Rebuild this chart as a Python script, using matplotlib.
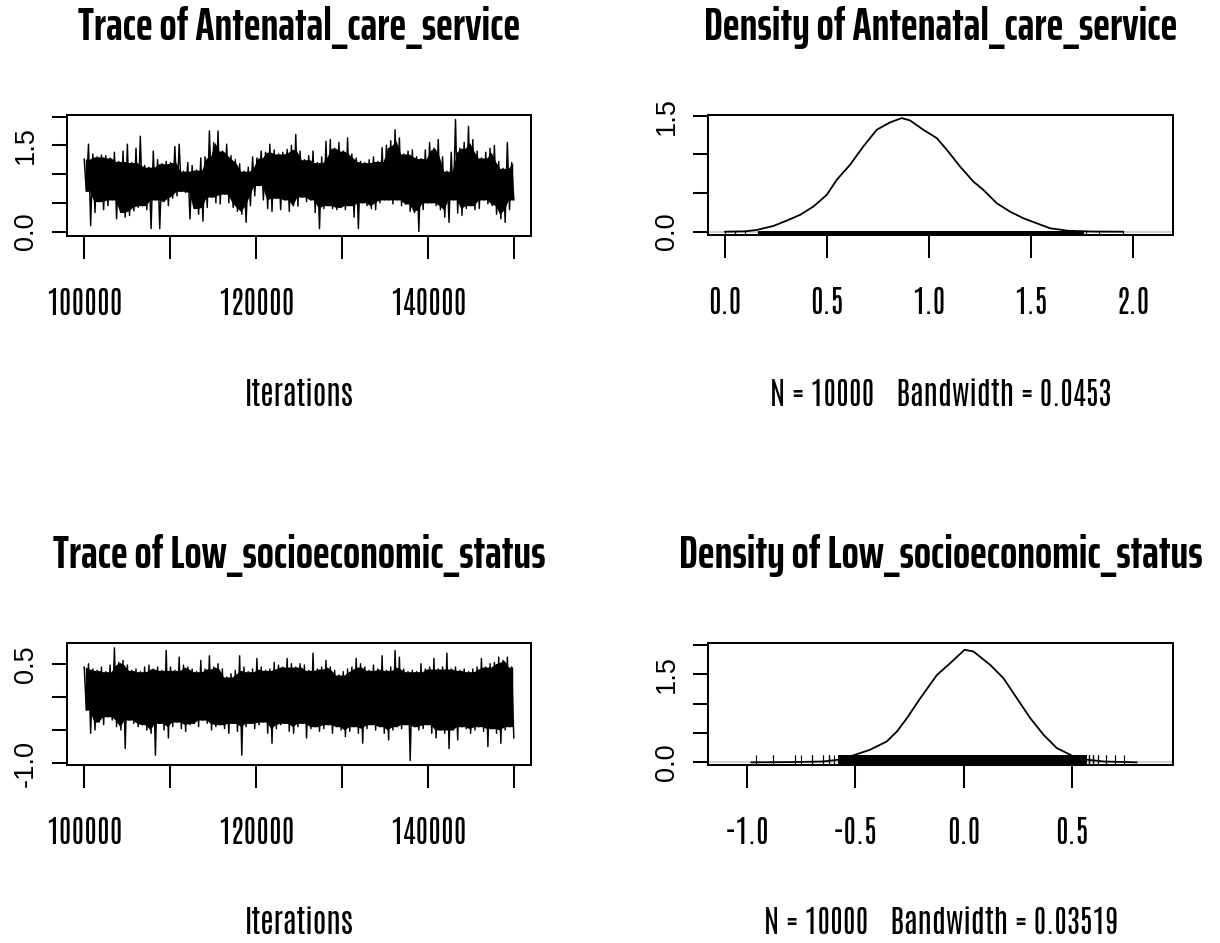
import numpy as np
import matplotlib
matplotlib.use("Agg")
import matplotlib.pyplot as plt
from matplotlib.textpath import TextPath
from matplotlib.font_manager import FontProperties

# ---------------- data ----------------
iter_start, iter_end = 100000, 150000

# trace 1: per-bin (500 iterations) upper and lower excursions
ant_hi = [1.26, 1.52, 1.35, 1.30, 1.33, 1.32, 1.28, 1.38, 1.22, 1.40,
          1.52, 1.20, 1.45, 1.66, 1.15, 1.12, 1.40, 1.25, 1.18, 1.22,
          1.20, 1.48, 1.52, 1.05, 1.20, 1.15, 1.07, 1.28, 1.30, 1.75,
          1.55, 1.75, 1.40, 1.52, 1.32, 1.25, 1.18, 1.05, 1.12, 1.30,
          1.28, 1.40, 1.38, 1.52, 1.42, 1.35, 1.38, 1.43, 1.50, 1.69,
          1.40, 1.25, 1.32, 1.40, 1.20, 1.30, 1.57, 1.60, 1.45, 1.55,
          1.40, 1.63, 1.35, 1.28, 1.22, 1.20, 1.25, 1.30, 1.22, 1.46,
          1.50, 1.58, 1.77, 1.63, 1.35, 1.40, 1.42, 1.30, 1.27, 1.42,
          1.55, 1.45, 1.60, 1.30, 1.05, 1.38, 1.95, 1.45, 1.55, 1.83,
          1.60, 1.40, 1.28, 1.38, 1.45, 1.50, 1.22, 1.10, 1.55, 1.20]
ant_lo = [0.70, 0.10, 0.33, 0.52, 0.38, 0.45, 0.55, 0.22, 0.33, 0.25,
          0.28, 0.36, 0.42, 0.45, 0.38, 0.05, 0.55, 0.05, 0.52, 0.45,
          0.58, 0.62, 0.70, 0.68, 0.22, 0.40, 0.30, 0.18, 0.42, 0.60,
          0.50, 0.48, 0.65, 0.50, 0.42, 0.35, 0.30, 0.16, 0.45, 0.62,
          0.80, 0.55, 0.40, 0.35, 0.58, 0.38, 0.55, 0.35, 0.45, 0.44,
          0.60, 0.52, 0.55, 0.33, 0.05, 0.40, 0.45, 0.40, 0.38, 0.42,
          0.38, 0.45, 0.25, 0.05, 0.50, 0.45, 0.40, 0.38, 0.50, 0.55,
          0.55, 0.48, 0.55, 0.45, 0.48, 0.35, 0.33, 0.00, 0.38, 0.50,
          0.50, 0.45, 0.38, 0.25, 0.16, 0.55, 0.32, 0.28, 0.40, 0.45,
          0.38, 0.40, 0.55, 0.48, 0.45, 0.30, 0.22, 0.16, 0.38, 0.55]

# trace 2
low_hi = [0.45, 0.50, 0.42, 0.40, 0.45, 0.38, 0.48, 0.74, 0.52, 0.55,
          0.48, 0.40, 0.42, 0.38, 0.45, 0.48, 0.42, 0.45, 0.40, 0.70,
          0.45, 0.40, 0.60, 0.48, 0.45, 0.42, 0.38, 0.55, 0.42, 0.62,
          0.45, 0.50, 0.42, 0.30, 0.35, 0.40, 0.62, 0.45, 0.38, 0.42,
          0.58, 0.45, 0.40, 0.42, 0.52, 0.48, 0.45, 0.58, 0.50, 0.45,
          0.50, 0.48, 0.40, 0.66, 0.42, 0.45, 0.55, 0.45, 0.40, 0.33,
          0.38, 0.42, 0.45, 0.58, 0.50, 0.45, 0.40, 0.48, 0.42, 0.62,
          0.40, 0.45, 0.70, 0.60, 0.42, 0.38, 0.40, 0.38, 0.50, 0.42,
          0.45, 0.58, 0.42, 0.45, 0.66, 0.42, 0.45, 0.40, 0.42, 0.38,
          0.42, 0.45, 0.58, 0.45, 0.50, 0.52, 0.60, 0.55, 0.60, 0.45]
low_lo = [-0.20, -0.55, -0.50, -0.38, -0.42, -0.30, -0.35, -0.45, -0.50, -0.78,
          -0.35, -0.40, -0.45, -0.42, -0.50, -0.55, -0.88, -0.40, -0.50, -0.62,
          -0.45, -0.38, -0.48, -0.52, -0.42, -0.40, -0.45, -0.35, -0.40, -0.50,
          -0.45, -0.42, -0.48, -0.55, -0.40, -0.52, -0.88, -0.45, -0.40, -0.48,
          -0.42, -0.38, -0.55, -0.70, -0.48, -0.42, -0.40, -0.52, -0.55, -0.45,
          -0.40, -0.62, -0.48, -0.45, -0.52, -0.48, -0.42, -0.55, -0.45, -0.50,
          -0.60, -0.52, -0.45, -0.55, -0.70, -0.48, -0.42, -0.50, -0.45, -0.55,
          -0.65, -0.50, -0.45, -0.48, -0.42, -0.96, -0.45, -0.50, -0.48, -0.42,
          -0.55, -0.62, -0.50, -0.55, -0.78, -0.50, -0.65, -0.45, -0.48, -0.55,
          -0.50, -0.45, -0.52, -0.75, -0.48, -0.55, -0.70, -0.50, -0.45, -0.62]

# density curves
ant_dens_x = [0.00, 0.10, 0.155, 0.237, 0.302, 0.367, 0.432, 0.498, 0.547, 0.612,
              0.677, 0.743, 0.808, 0.865, 0.906, 0.971, 1.037, 1.086, 1.151, 1.216,
              1.265, 1.331, 1.396, 1.461, 1.526, 1.592, 1.68, 1.80, 1.95]
ant_dens_y = [0.00, 0.005, 0.022, 0.074, 0.143, 0.217, 0.324, 0.476, 0.671, 0.865,
              1.102, 1.319, 1.414, 1.47, 1.44, 1.319, 1.211, 1.06, 0.843, 0.649,
              0.541, 0.368, 0.259, 0.174, 0.109, 0.044, 0.012, 0.002, 0.00]
low_dens_x = [-0.98, -0.80, -0.65, -0.579, -0.509, -0.432, -0.355, -0.308, -0.262, -0.200,
              -0.123, -0.062, 0.005, 0.046, 0.124, 0.185, 0.247, 0.309, 0.370, 0.432,
              0.509, 0.571, 0.65, 0.80]
low_dens_y = [0.00, 0.004, 0.015, 0.045, 0.12, 0.215, 0.356, 0.526, 0.752, 1.092,
              1.49, 1.69, 1.92, 1.89, 1.66, 1.433, 1.092, 0.752, 0.47, 0.242,
              0.101, 0.045, 0.015, 0.00]

# dense part of the rug (where samples are too many to separate)
ant_rug_core = (0.16, 1.76)
low_rug_core = (-0.58, 0.57)

titles = ["Trace of Antenatal_care_service", "Density of Antenatal_care_service",
          "Trace of Low_socioeconomic_status", "Density of Low_socioeconomic_status"]
xlab_trace = "Iterations"
xlab_dens = ["N = 10000   Bandwidth = 0.0453", "N = 10000   Bandwidth = 0.03519"]

trace_xticks = [100000, 110000, 120000, 130000, 140000, 150000]
trace_xticklabels = ["100000", "", "120000", "", "140000", ""]
ant_dens_xticks = [0.0, 0.5, 1.0, 1.5, 2.0]
ant_dens_xticklabels = ["0.0", "0.5", "1.0", "1.5", "2.0"]
low_dens_xticks = [-1.0, -0.5, 0.0, 0.5]
low_dens_xticklabels = ["-1.0", "-0.5", "0.0", "0.5"]
ant_trace_yticks = [0.0, 0.5, 1.0, 1.5, 2.0]
ant_trace_yticklabels = ["0.0", "", "", "1.5", ""]
ant_dens_yticks = [0.0, 0.5, 1.0, 1.5]
ant_dens_yticklabels = ["0.0", "", "", "1.5"]
low_trace_yticks = [-1.0, -0.5, 0.0, 0.5]
low_trace_yticklabels = ["-1.0", "", "", "0.5"]
low_dens_yticks = [0.0, 0.5, 1.0, 1.5, 2.0]
low_dens_yticklabels = ["0.0", "", "", "1.5", ""]

# ---------------- styling / layout ----------------
W, H, DPI = 1220, 943, 100
TITLE_FONT = "Saira ExtraCondensed"
TEXT_FONT = "Antonio"
YLAB_FONT = ["Liberation Sans", "DejaVu Sans"]


def fit_pt(text, target_px, **kw):
    fp = FontProperties(size=100, **kw)
    w = TextPath((0, 0), text, prop=fp).get_extents().width
    return 100.0 * target_px / (w * DPI / 72.0)


title_pt = fit_pt(titles[0], 441, family=TITLE_FONT, weight="bold")
text_pt = fit_pt("100000", 72.7, family=TEXT_FONT)
ylab_pt = 19.5

fig = plt.figure(figsize=(W / DPI, H / DPI), dpi=DPI)
fig.patch.set_facecolor("white")


def px_rect(x0, y0, x1, y1):
    return [x0 / W, 1 - y1 / H, (x1 - x0) / W, (y1 - y0) / H]


boxes = [px_rect(67, 115, 531, 236), px_rect(708.3, 115, 1173, 235),
         px_rect(67, 643.3, 531, 765), px_rect(708.3, 643.3, 1173.3, 765)]
axs = [fig.add_axes(b) for b in boxes]

LW = 1.45


def style(ax, xticks, xtl, yticks, ytl):
    for s in ax.spines.values():
        s.set_linewidth(LW)
        s.set_color("black")
    ax.set_xticks(xticks)
    ax.set_xticklabels(xtl, family=TEXT_FONT, fontsize=text_pt)
    ax.set_yticks(yticks)
    ax.set_yticklabels(ytl, family=YLAB_FONT, fontsize=ylab_pt, rotation=90,
                       va="center", ha="right")
    ax.tick_params(axis="x", length=16.5, width=LW, pad=21, colors="black")
    ax.tick_params(axis="y", length=10.8, width=LW, pad=9.5, colors="black")


def draw_trace(ax, hi, lo, ylim):
    hi = np.asarray(hi)
    lo = np.asarray(lo)
    n = len(hi)
    xs = np.linspace(iter_start, iter_end, 2 * n)
    ys = np.empty(2 * n)
    ys[0::2] = hi
    ys[1::2] = lo
    # solid inner band: where neighbouring bins overlap
    hp = np.pad(hi, 1, mode="edge")
    lp = np.pad(lo, 1, mode="edge")
    core_hi = np.minimum(np.minimum(hp[:-2], hp[1:-1]), hp[2:])
    core_lo = np.maximum(np.maximum(lp[:-2], lp[1:-1]), lp[2:])
    xc = xs[0::2] + (xs[1] - xs[0]) / 2
    ax.fill_between(xc, core_lo, core_hi, color="black", lw=0, zorder=2)
    ax.plot(xs, ys, color="black", lw=1.05, zorder=3)
    ax.set_xlim(98000, 152000)
    ax.set_ylim(*ylim)


def draw_density(ax, dx, dy, core, samples, rug_h, xlim, ylim):
    ax.axhline(0, color="#c8c8c8", lw=1.2, zorder=1)
    ax.plot(dx, dy, color="black", lw=1.3, zorder=3)
    tr = ax.get_xaxis_transform()
    ax.vlines(samples, 0, rug_h, transform=tr, color="black", lw=0.8, zorder=2)
    ax.axvspan(core[0], core[1], ymin=0, ymax=rug_h, color="black", lw=0, zorder=2)
    ax.set_xlim(*xlim)
    ax.set_ylim(*ylim)


draw_trace(axs[0], ant_hi, ant_lo, (-0.078, 2.028))
style(axs[0], trace_xticks, trace_xticklabels, ant_trace_yticks, ant_trace_yticklabels)

draw_density(axs[1], ant_dens_x, ant_dens_y, ant_rug_core, ant_hi + ant_lo, 0.035,
             (-0.082, 2.194), (-0.043, 1.51))
style(axs[1], ant_dens_xticks, ant_dens_xticklabels, ant_dens_yticks, ant_dens_yticklabels)

draw_trace(axs[2], low_hi, low_lo, (-1.028, 0.808))
style(axs[2], trace_xticks, trace_xticklabels, low_trace_yticks, low_trace_yticklabels)

draw_density(axs[3], low_dens_x, low_dens_y, low_rug_core, low_hi + low_lo, 0.08,
             (-1.18, 0.97), (-0.045, 2.03))
style(axs[3], low_dens_xticks, low_dens_xticklabels, low_dens_yticks, low_dens_yticklabels)

# titles and axis labels (pixel positions from the reference)
row_base = [0, 528]
col_center = [299, 940.5]
for i, ax in enumerate(axs):
    r, c = divmod(i, 2)
    fig.text(col_center[c] / W, 1 - (40 + row_base[r]) / H, titles[i],
             family=TITLE_FONT, weight="bold", fontsize=title_pt,
             ha="center", va="baseline")
    lab = xlab_trace if c == 0 else xlab_dens[r]
    fig.text(col_center[c] / W, 1 - (406.5 + row_base[r]) / H, lab,
             family=TEXT_FONT, fontsize=text_pt, ha="center", va="baseline")

fig.savefig("out.png", dpi=DPI, facecolor="white")
